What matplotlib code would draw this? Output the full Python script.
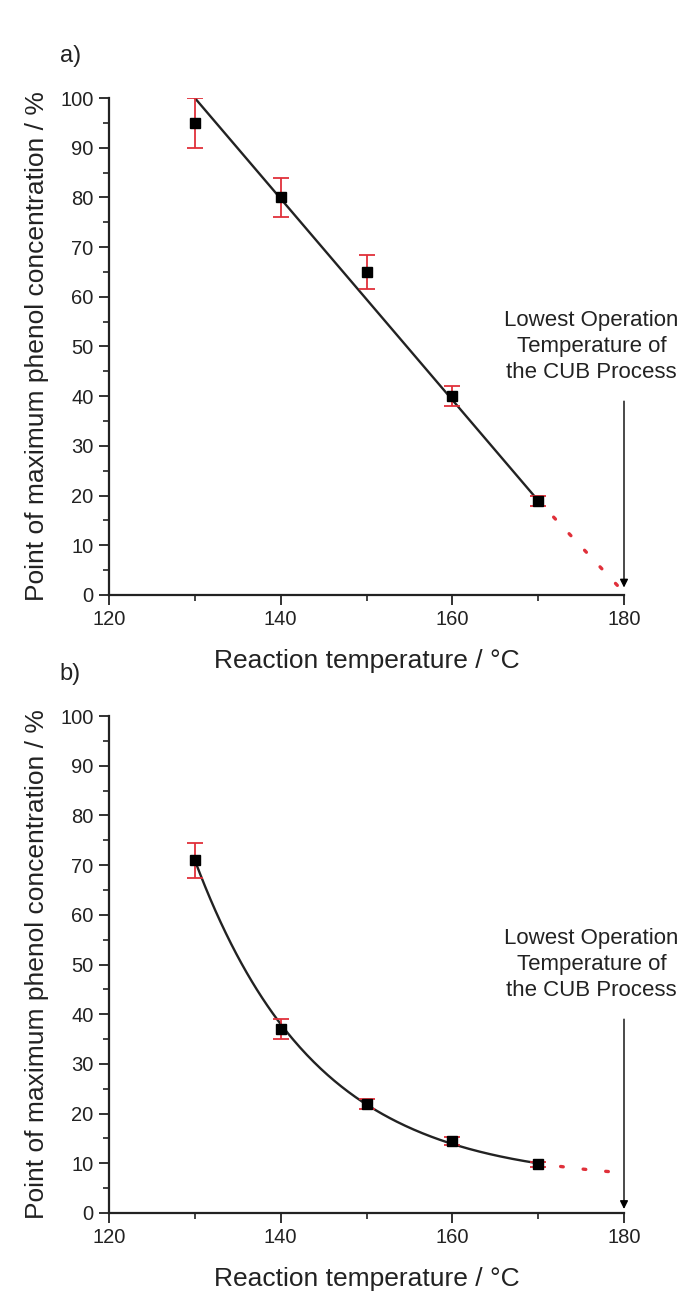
import numpy as np
import matplotlib
matplotlib.use("Agg")
import matplotlib.pyplot as plt
from matplotlib.ticker import MultipleLocator

plt.rcParams['font.family'] = ['Liberation Sans', 'DejaVu Sans']

# ---- data ----
temps = [130, 140, 150, 160, 170]
a_vals = [95, 80, 65, 40, 19]
a_errs = [5, 4, 3.5, 2, 1]
a_fit_x = [130, 170]
a_fit_y = [100, 19]
a_extra_x = [170, 180]
a_extra_y = [19, 0.5]

b_vals = [71, 37, 22, 14.5, 9.8]
b_errs = [3.5, 2, 1, 0.8, 0.5]

arrow_x = 180
arrow_top = [39, 39]
arrow_bottom = [1.5, 0.8]
annot_text = "Lowest Operation\nTemperature of\nthe CUB Process"
panel_labels = ["a)", "b)"]
xlabel = "Reaction temperature / °C"
ylabel = "Point of maximum phenol concentration / %"


def exp_fit(x, y):
    x = np.asarray(x, float)
    y = np.asarray(y, float)
    best = None
    for y0 in np.linspace(0, min(y) - 0.1, 200):
        k, lnA = np.polyfit(x - x[0], np.log(y - y0), 1)
        pred = y0 + np.exp(lnA) * np.exp(k * (x - x[0]))
        err = np.sum((pred - y) ** 2)
        if best is None or err < best[0]:
            best = (err, y0, np.exp(lnA), k)
    _, y0, A, k = best
    return lambda t: y0 + A * np.exp(k * (np.asarray(t, float) - x[0]))


fb = exp_fit(temps, b_vals)
b_fit_x = np.linspace(130, 170, 200)
b_fit_y = fb(b_fit_x)
b_extra_x = np.linspace(170, 180, 50)
b_extra_y = fb(b_extra_x)

fig = plt.figure(figsize=(6.82, 13.10), dpi=100)
left, width, height = 109 / 682, 515 / 682, 497 / 1310
bottoms = [1 - 595 / 1310, 1 - 1213 / 1310]

panels = [
    (a_vals, a_errs, a_fit_x, a_fit_y, a_extra_x, a_extra_y),
    (b_vals, b_errs, b_fit_x, b_fit_y, b_extra_x, b_extra_y),
]

for i, (vals, errs, fx, fy, ex, ey) in enumerate(panels):
    ax = fig.add_axes([left, bottoms[i], width, height])
    ax.plot(ex, ey, color='#e0303a', lw=2.4, linestyle=(0, (0.8, 6.0)),
            dash_capstyle='round', zorder=2)
    ax.plot(fx, fy, color='#222222', lw=1.7, zorder=3)
    ax.errorbar(temps, vals, yerr=errs, fmt='s', color='black', ms=6.5,
                ecolor='#e0303a', elinewidth=1.3, capsize=6, capthick=1.3,
                zorder=4)
    ax.set_xlim(120, 180)
    ax.set_ylim(0, 100)
    ax.xaxis.set_major_locator(MultipleLocator(20))
    ax.xaxis.set_minor_locator(MultipleLocator(10))
    ax.yaxis.set_major_locator(MultipleLocator(10))
    ax.yaxis.set_minor_locator(MultipleLocator(5))
    for s in ['top', 'right']:
        ax.spines[s].set_visible(False)
    for s in ['left', 'bottom']:
        ax.spines[s].set_linewidth(1.6)
        ax.spines[s].set_color('#222222')
    ax.tick_params(which='major', direction='out', length=7, width=1.3,
                   labelsize=14.5, colors='#222222', pad=4)
    ax.tick_params(which='minor', direction='out', length=4, width=1.2,
                   colors='#222222')
    ax.set_xlabel(xlabel, fontsize=19, color='#222222')
    ax.set_ylabel(ylabel, fontsize=19, color='#222222')
    ax.xaxis.set_label_coords(0.5, -66 / 497, transform=ax.transAxes)
    ax.yaxis.set_label_coords(-72 / 515, 0.5, transform=ax.transAxes)
    ax.xaxis.label.set_va('center')
    ax.yaxis.label.set_va('center')
    ax.annotate('', xy=(arrow_x, arrow_bottom[i]), xytext=(arrow_x, arrow_top[i]),
                arrowprops=dict(arrowstyle='-|>', color='black', lw=1.0,
                                mutation_scale=12, shrinkA=0, shrinkB=0),
                annotation_clip=False, zorder=5)
    ax.text(176.2, 50, annot_text, ha='center', va='center', fontsize=16,
            linespacing=1.32, color='#222222', clip_on=False)
    ax.text(-0.075, 1.085, panel_labels[i], transform=ax.transAxes,
            fontsize=17, ha='center', va='center', color='#222222')

fig.savefig('out.png', dpi=100)
